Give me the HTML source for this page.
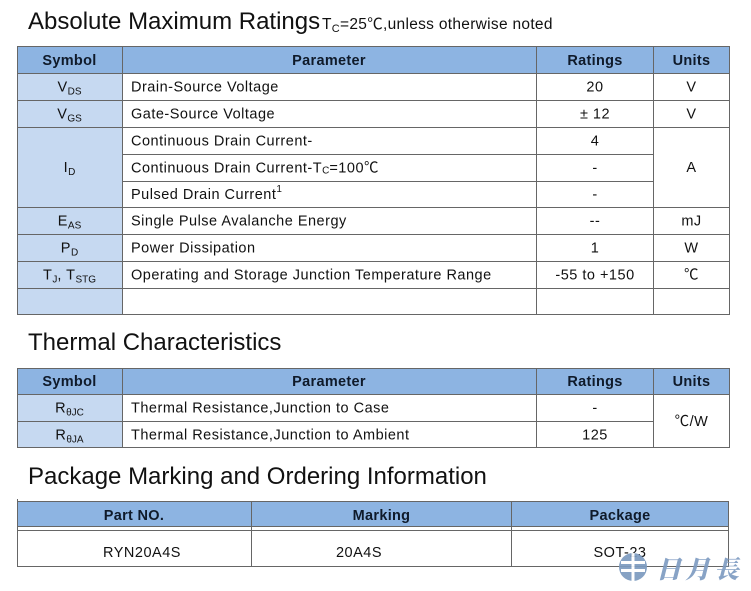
<!DOCTYPE html>
<html>
<head>
<meta charset="utf-8">
<style>
html,body{margin:0;padding:0;background:#fff;}
svg{display:block;}
text{font-family:"Liberation Sans","Noto Sans CJK SC",sans-serif;fill:#111;}
.t{font-size:14.5px;letter-spacing:0.5px;}
.h{font-size:14.5px;font-weight:bold;letter-spacing:0.3px;fill:#0f1a2a;}
.title{font-size:24px;letter-spacing:0px;fill:#111;}
.sub{font-size:10px;letter-spacing:0;}
.ln{stroke:#666;stroke-width:1;shape-rendering:crispEdges;}
</style>
</head>
<body>
<svg width="751" height="591" viewBox="0 0 751 591" xmlns="http://www.w3.org/2000/svg">
<rect x="0" y="0" width="751" height="591" fill="#fff"/>

<!-- Title 1 -->
<text class="title" x="28" y="29">Absolute Maximum Ratings</text>
<text x="322" y="29" style="font-size:15.5px;letter-spacing:0.3px">T<tspan style="font-size:11px" dy="3">C</tspan><tspan dy="-3">=25℃,unless otherwise noted</tspan></text>

<!-- Table 1 fills -->
<rect x="17" y="46" width="712" height="27" fill="#8DB4E2"/>
<rect x="17" y="73" width="105" height="241" fill="#C6D9F1"/>

<!-- Table 1 lines -->
<g class="ln">
<line x1="17" y1="46.5" x2="730" y2="46.5"/>
<line x1="17" y1="73.5" x2="730" y2="73.5"/>
<line x1="17" y1="100.5" x2="730" y2="100.5"/>
<line x1="17" y1="127.5" x2="730" y2="127.5"/>
<line x1="122" y1="154.5" x2="654" y2="154.5"/>
<line x1="122" y1="181.5" x2="654" y2="181.5"/>
<line x1="17" y1="207.5" x2="730" y2="207.5"/>
<line x1="17" y1="234.5" x2="730" y2="234.5"/>
<line x1="17" y1="261.5" x2="730" y2="261.5"/>
<line x1="17" y1="288.5" x2="730" y2="288.5"/>
<line x1="17" y1="314.5" x2="730" y2="314.5"/>
<line x1="17.5" y1="46" x2="17.5" y2="315"/>
<line x1="122.5" y1="46" x2="122.5" y2="315"/>
<line x1="536.5" y1="46" x2="536.5" y2="315"/>
<line x1="653.5" y1="46" x2="653.5" y2="315"/>
<line x1="729.5" y1="46" x2="729.5" y2="315"/>
</g>

<!-- Table 1 header -->
<text class="h" x="69.5" y="65" text-anchor="middle">Symbol</text>
<text class="h" x="329" y="65" text-anchor="middle">Parameter</text>
<text class="h" x="595" y="65" text-anchor="middle">Ratings</text>
<text class="h" x="691.5" y="65" text-anchor="middle">Units</text>

<!-- Table 1 rows -->
<text class="t" x="69.5" y="91.5" text-anchor="middle">V<tspan class="sub" dy="3">DS</tspan></text>
<text class="t" x="131" y="91.5">Drain-Source Voltage</text>
<text class="t" x="595" y="91.5" text-anchor="middle">20</text>
<text class="t" x="691.5" y="91.5" text-anchor="middle">V</text>

<text class="t" x="69.5" y="118.5" text-anchor="middle">V<tspan class="sub" dy="3">GS</tspan></text>
<text class="t" x="131" y="118.5">Gate-Source Voltage</text>
<text class="t" x="595" y="118.5" text-anchor="middle">± 12</text>
<text class="t" x="691.5" y="118.5" text-anchor="middle">V</text>

<text class="t" x="131" y="145.5">Continuous Drain Current-</text>
<text class="t" x="595" y="145.5" text-anchor="middle">4</text>

<text class="t" x="131" y="172.5">Continuous Drain Current-T<tspan style="font-size:10px;letter-spacing:0" dy="1">C</tspan><tspan dy="-1">=100℃</tspan></text>
<text class="t" x="595" y="172.5" text-anchor="middle">-</text>

<text class="t" x="131" y="199">Pulsed Drain Current<tspan style="font-size:10px" dy="-7">1</tspan></text>
<text class="t" x="595" y="199" text-anchor="middle">-</text>

<text class="t" x="69.5" y="172" text-anchor="middle">I<tspan class="sub" dy="3">D</tspan></text>
<text class="t" x="691.5" y="172" text-anchor="middle">A</text>

<text class="t" x="69.5" y="225.5" text-anchor="middle">E<tspan class="sub" dy="3">AS</tspan></text>
<text class="t" x="131" y="225.5">Single Pulse Avalanche Energy</text>
<text class="t" x="595" y="225.5" text-anchor="middle">--</text>
<text class="t" x="691.5" y="225.5" text-anchor="middle">mJ</text>

<text class="t" x="69.5" y="252.5" text-anchor="middle">P<tspan class="sub" dy="3">D</tspan></text>
<text class="t" x="131" y="252.5">Power Dissipation</text>
<text class="t" x="595" y="252.5" text-anchor="middle">1</text>
<text class="t" x="691.5" y="252.5" text-anchor="middle">W</text>

<text class="t" x="69.5" y="279.5" text-anchor="middle">T<tspan class="sub" dy="3">J</tspan><tspan dy="-3">, T</tspan><tspan class="sub" dy="3">STG</tspan></text>
<text class="t" x="131" y="279.5">Operating and Storage Junction Temperature Range</text>
<text class="t" x="595" y="279.5" text-anchor="middle">-55 to +150</text>
<text class="t" x="691.5" y="279.5" text-anchor="middle">℃</text>

<!-- Title 2 -->
<text class="title" x="28" y="350">Thermal Characteristics</text>

<!-- Table 2 -->
<rect x="17" y="368" width="712" height="26" fill="#8DB4E2"/>
<rect x="17" y="394" width="105" height="54" fill="#C6D9F1"/>
<g class="ln">
<line x1="17" y1="368.5" x2="730" y2="368.5"/>
<line x1="17" y1="394.5" x2="730" y2="394.5"/>
<line x1="17" y1="421.5" x2="654" y2="421.5"/>
<line x1="17" y1="447.5" x2="730" y2="447.5"/>
<line x1="17.5" y1="368" x2="17.5" y2="448"/>
<line x1="122.5" y1="368" x2="122.5" y2="448"/>
<line x1="536.5" y1="368" x2="536.5" y2="448"/>
<line x1="653.5" y1="368" x2="653.5" y2="448"/>
<line x1="729.5" y1="368" x2="729.5" y2="448"/>
</g>
<text class="h" x="69.5" y="386" text-anchor="middle">Symbol</text>
<text class="h" x="329" y="386" text-anchor="middle">Parameter</text>
<text class="h" x="595" y="386" text-anchor="middle">Ratings</text>
<text class="h" x="691.5" y="386" text-anchor="middle">Units</text>

<text class="t" x="69.5" y="412.5" text-anchor="middle">R<tspan class="sub" dy="3">θJC</tspan></text>
<text class="t" x="131" y="412.5">Thermal Resistance,Junction to Case</text>
<text class="t" x="595" y="412.5" text-anchor="middle">-</text>

<text class="t" x="69.5" y="439.5" text-anchor="middle">R<tspan class="sub" dy="3">θJA</tspan></text>
<text class="t" x="131" y="439.5">Thermal Resistance,Junction to Ambient</text>
<text class="t" x="595" y="439.5" text-anchor="middle">125</text>

<text class="t" x="691.5" y="426" text-anchor="middle">℃/W</text>

<!-- Title 3 -->
<text class="title" x="28" y="484">Package Marking and Ordering Information</text>

<!-- Table 3 -->
<rect x="17" y="501" width="711" height="26" fill="#8DB4E2"/>
<g class="ln">
<line x1="17" y1="501.5" x2="729" y2="501.5"/>
<line x1="17" y1="526.5" x2="729" y2="526.5"/>
<line x1="17" y1="530.5" x2="729" y2="530.5"/>
<line x1="17" y1="566.5" x2="729" y2="566.5"/>
<line x1="17.5" y1="499" x2="17.5" y2="567"/>
<line x1="251.5" y1="501" x2="251.5" y2="567"/>
<line x1="511.5" y1="501" x2="511.5" y2="567"/>
<line x1="728.5" y1="501" x2="728.5" y2="567"/>
</g>
<text class="h" x="134" y="520" text-anchor="middle">Part NO.</text>
<text class="h" x="381.5" y="520" text-anchor="middle">Marking</text>
<text class="h" x="620" y="520" text-anchor="middle">Package</text>

<text class="t" x="142" y="557" text-anchor="middle">RYN20A4S</text>
<text class="t" x="359" y="557" text-anchor="middle">20A4S</text>
<text class="t" x="620" y="557" text-anchor="middle">SOT-23</text>

<!-- Logo -->
<g opacity="0.92">
<circle cx="633" cy="567" r="14" fill="#7C9BC0"/>
<rect x="621" y="561" width="24" height="3" fill="#fff"/>
<rect x="621" y="569" width="24" height="3" fill="#fff"/>
<rect x="631.5" y="553" width="3" height="28" fill="#fff"/>
<text x="656" y="578" style="font-family:'Noto Serif CJK SC','Noto Sans CJK SC',serif;font-size:25px;font-weight:900;letter-spacing:4px;fill:#7E9CC2;font-style:italic">日月長</text>
</g>
</svg>
</body>
</html>
